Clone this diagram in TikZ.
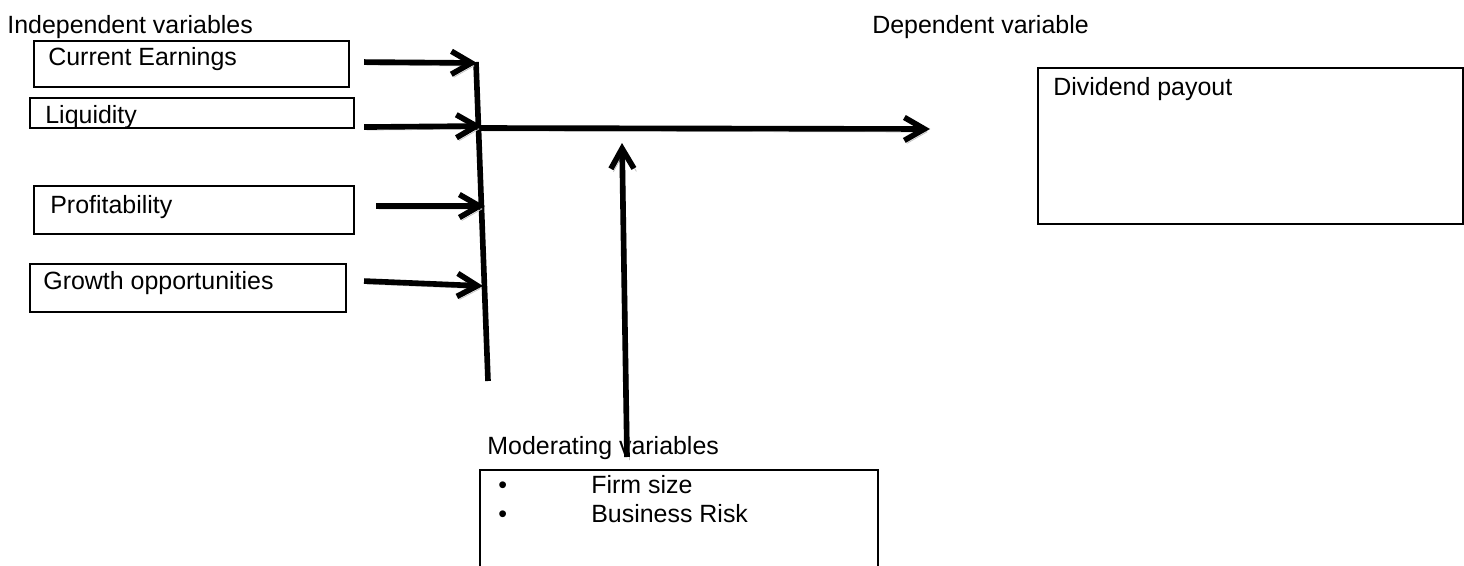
\documentclass[tikz,border=0pt]{standalone}
\usepackage{fontspec}
\setmainfont{Liberation Sans}
\usetikzlibrary{positioning,arrows.meta}

\begin{document}
\begin{tikzpicture}[
    x=0.02cm, y=-0.02cm,
    font=\fontsize{14.2}{17}\selectfont,
    box/.style={draw, line width=1.2pt, anchor=north west, inner sep=0pt},
    lbl/.style={anchor=base west, inner sep=0pt},
    bar/.style={line width=3.2pt},
    flow/.style={line width=3.2pt, -{Straight Barb[length=4mm, width=4.6mm]},
        preaction={draw=gray!50, transform canvas={shift={(0.05cm,-0.06cm)}}}}
]
\useasboundingbox (0,0) rectangle (1464,565);

% Headings
\node[lbl] (indep) at (7,33) {Independent variables};
\node[lbl] (dep) at (872,33) {Dependent variable};
\node[lbl] (modlbl) at (487,454) {Moderating variables};

% Define boxes
\node[box, minimum width=6.30cm, minimum height=0.92cm] (ce) at (33,40) {};
\node[box, minimum width=6.48cm, minimum height=0.60cm] (liq) at (29,97) {};
\node[box, minimum width=6.40cm, minimum height=0.96cm] (prof) at (33,185) {};
\node[box, minimum width=6.32cm, minimum height=0.96cm] (gro) at (29,263) {};
\node[box, minimum width=8.50cm, minimum height=3.12cm] (div) at (1037,67) {};
\begin{scope}
\clip (0,0) rectangle (1464,565);
\node[box, minimum width=7.96cm, minimum height=2.40cm] (mod) at (479,469) {};
\end{scope}

% Box texts
\node[lbl] (cetxt) at (48,65) {Current Earnings};
\node[lbl] (liqtxt) at (45,123) {Liquidity};
\node[lbl] (proftxt) at (50,213) {Profitability};
\node[lbl] (grotxt) at (43,289) {Growth opportunities};
\node[lbl] (divtxt) at (1053,95) {Dividend payout};
\node[lbl] (modtxt) at (498,493) {\begin{tabular}[t]{@{}p{1.86cm}@{}l@{}}
  • & Firm size\\
  • & Business Risk
\end{tabular}};

% Collecting bar and arrow ends
\coordinate (bt) at (476,62);
\coordinate (bb) at (488,381);
\coordinate (t1) at (477,63);
\coordinate (t2) at (482,126);
\coordinate (t3) at (485,206);
\coordinate (t4) at (483,286);
\coordinate (hub) at (481,128);
\coordinate (out) at (930,129);
\coordinate (mb) at (627,457);
\coordinate (mt) at (622,143);

\draw[bar] (bt) -- (bb);

% Draw arrows
\foreach \src/\dx/\dy/\tip in {ce/0.28/0.04/t1, liq/0.18/-0.28/t2, prof/0.42/0.08/t3, gro/0.34/0.14/t4} {
    \draw[flow] ([xshift=\dx cm, yshift=\dy cm]\src.east) -- (\tip);
}
\draw[flow] (hub) -- (out);
\draw[flow] (mb) -- (mt);

\end{tikzpicture}
\end{document}
